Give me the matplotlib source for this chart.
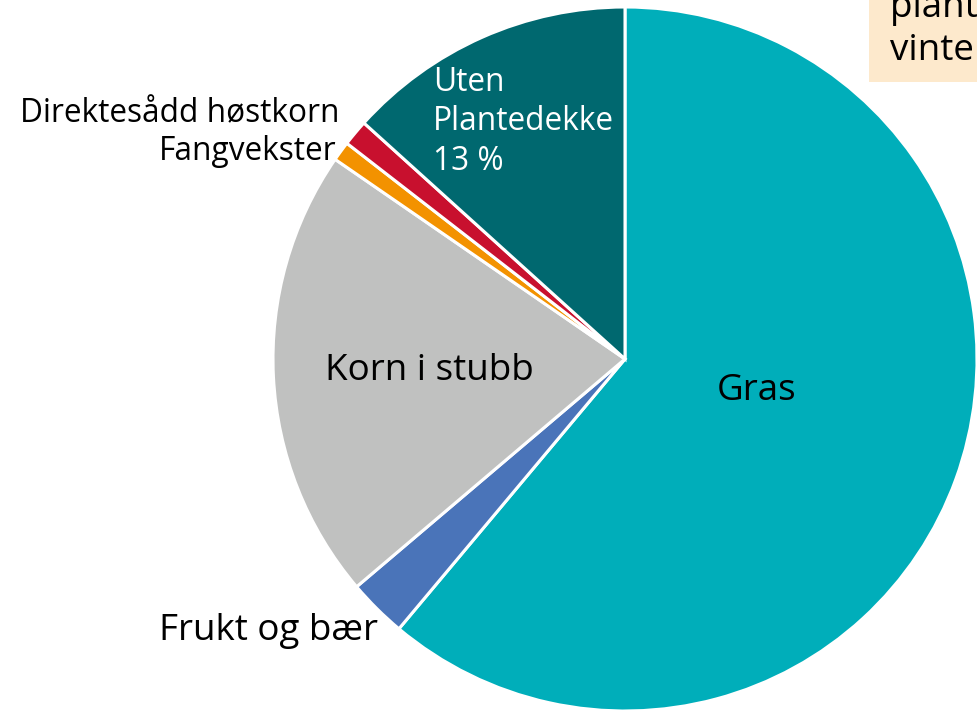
import matplotlib
matplotlib.use("Agg")
import matplotlib.pyplot as plt
from matplotlib.patches import Rectangle

plt.rcParams['font.family'] = ['Open Sans', 'DejaVu Sans']

# shares of agricultural area (%)
categories = ['Gras', 'Frukt og bær', 'Korn i stubb', 'Fangvekster',
              'Direktesådd høstkorn', 'Uten\nPlantedekke\n13 %']
shares = [61.1, 2.7, 20.8, 0.9, 1.2, 13.3]
colors = ['#00aeba', '#4a74b9', '#c0c1c0', '#f39200', '#c8102e', '#00686f']

W, H = 977, 712
cx, cy, r = 625, 359, 352

fig = plt.figure(figsize=(W / 100, H / 100), dpi=100)
ax = fig.add_axes([(cx - r) / W, (H - cy - r) / H, 2 * r / W, 2 * r / H])

wedges, _ = ax.pie(shares, colors=colors, startangle=90, counterclock=False,
                   radius=1.0, wedgeprops=dict(edgecolor='white', linewidth=2.2))
for w in wedges:
    w.set_clip_on(False)
ax.set_xlim(-1, 1)
ax.set_ylim(-1, 1)
ax.set_aspect('equal')
ax.axis('off')


def px(x, y):
    # pixel position -> data coords of the pie axes
    return (x - cx) / r, (cy - y) / r


big = 26.5
small = 22.8

ax.text(*px(757, 400), categories[0], ha='center', va='baseline', fontsize=big)
ax.text(*px(378, 640), categories[1], ha='right', va='baseline', fontsize=big)
ax.text(*px(429, 380), categories[2], ha='center', va='baseline', fontsize=big)
ax.text(*px(337, 160), categories[3], ha='right', va='baseline', fontsize=small)
ax.text(*px(340, 122), categories[4], ha='right', va='baseline', fontsize=small)
ax.text(*px(433, 66), categories[5], ha='left', va='top', fontsize=small,
        color='white', linespacing=1.25)

# note box in the top right corner, cut off by the image edge
fig.patches.append(Rectangle((869 / W, 1 - 82 / H), 0.3, 0.3,
                             transform=fig.transFigure, facecolor='#fde9cc',
                             edgecolor='none', zorder=0))
fig.text(890 / W, 1 - 17 / H, 'plantedekke om', ha='left', va='baseline', fontsize=big)
fig.text(890 / W, 1 - 60 / H, 'vinteren', ha='left', va='baseline', fontsize=big)

fig.savefig('out.png', dpi=100)
